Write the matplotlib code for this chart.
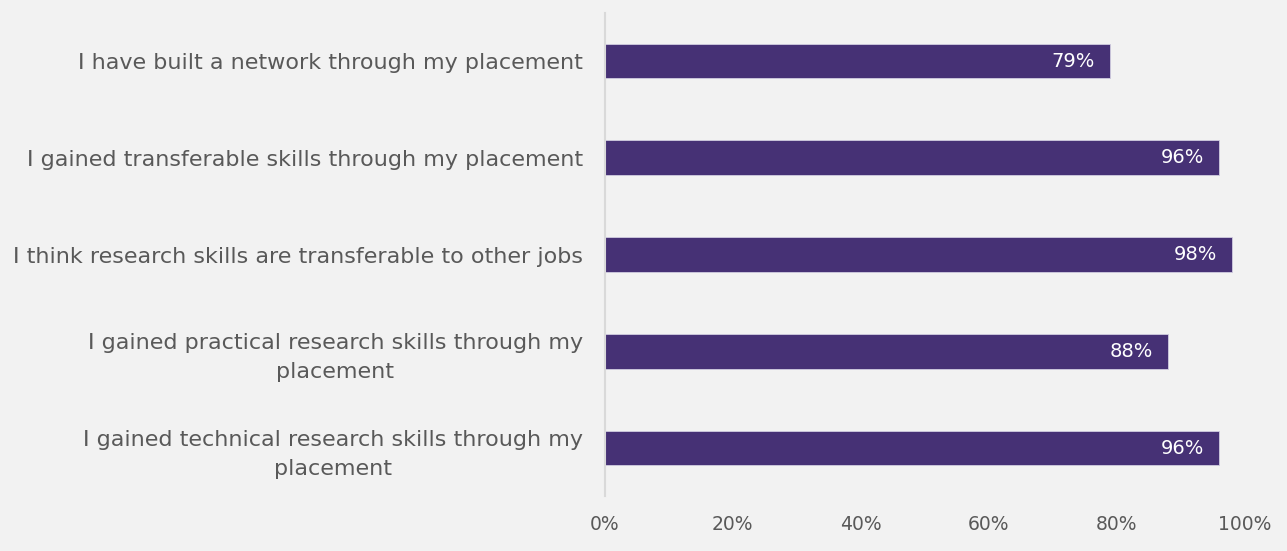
import matplotlib.pyplot as plt
import matplotlib.ticker as mticker

statements = [
    "I gained technical research skills through my\nplacement",
    "I gained practical research skills through my\nplacement",
    "I think research skills are transferable to other jobs",
    "I gained transferable skills through my placement",
    "I have built a network through my placement",
]
agree = [0.96, 0.88, 0.98, 0.96, 0.79]
x_ticks = [0, 0.2, 0.4, 0.6, 0.8, 1.0]

bg = "#f2f2f2"
bar_color = "#463175"
text_color = "#595959"

plt.rcParams["font.family"] = ["DejaVu Sans"]

fig = plt.figure(figsize=(12.87, 5.51), dpi=100, facecolor=bg)
ax = fig.add_axes([0.470, 0.099, 0.497, 0.878], facecolor=bg)

ypos = range(len(statements))
bars = ax.barh(ypos, agree, height=0.36, color=bar_color,
               edgecolor="#d0cce0", linewidth=0.6)

for b, v in zip(bars, agree):
    ax.annotate(f"{v:.0%}", xy=(b.get_width(), b.get_y() + b.get_height() / 2),
                xytext=(-15, 0), textcoords="offset pixels",
                ha="right", va="center", color="white", fontsize=14)

ax.set_xlim(0, 1.0)
ax.set_ylim(-0.5, len(statements) - 0.5)
ax.set_xticks(x_ticks)
ax.xaxis.set_major_formatter(mticker.PercentFormatter(1.0, decimals=0))
ax.set_yticks(list(ypos))
ax.set_yticklabels(statements, multialignment="center", linespacing=1.55)

ax.tick_params(axis="x", length=0, pad=13, labelsize=13.5, colors=text_color)
ax.tick_params(axis="y", length=0, pad=16, labelsize=16, colors=text_color)

for side in ["top", "right", "bottom"]:
    ax.spines[side].set_visible(False)
ax.spines["left"].set_color("#d9d9d9")
ax.spines["left"].set_linewidth(1.5)

fig.savefig("out.png", dpi=100, facecolor=bg)
